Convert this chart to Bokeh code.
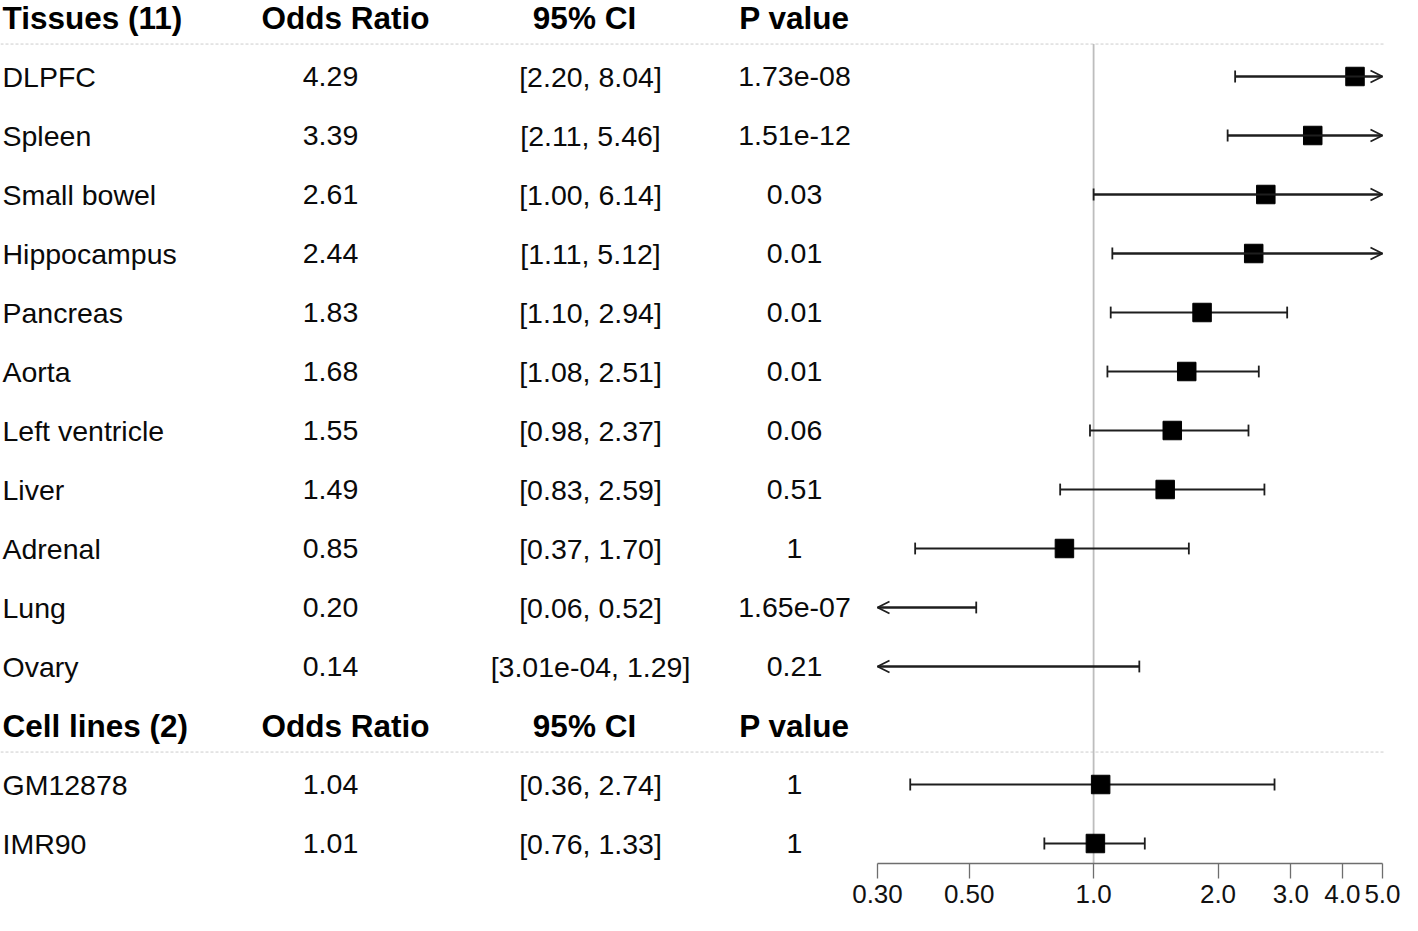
import math
from bokeh.plotting import figure
from bokeh.models import (ColumnDataSource, Range1d, LogScale, LogAxis, FixedTicker,
                          Arrow, OpenHead)
from bokeh.core.properties import value
from bokeh.embed import file_html
from bokeh.resources import INLINE

# ---------------- data ----------------
group_titles = ["Tissues (11)", "Cell lines (2)"]
column_titles = ["Odds Ratio", "95% CI", "P value"]

tissues = ["DLPFC", "Spleen", "Small bowel", "Hippocampus", "Pancreas", "Aorta",
           "Left ventricle", "Liver", "Adrenal", "Lung", "Ovary"]
tissue_or = [4.29, 3.39, 2.61, 2.44, 1.83, 1.68, 1.55, 1.49, 0.85, 0.20, 0.14]
tissue_lo = [2.20, 2.11, 1.00, 1.11, 1.10, 1.08, 0.98, 0.83, 0.37, 0.06, 3.01e-4]
tissue_hi = [8.04, 5.46, 6.14, 5.12, 2.94, 2.51, 2.37, 2.59, 1.70, 0.52, 1.29]
tissue_p = ["1.73e-08", "1.51e-12", "0.03", "0.01", "0.01", "0.01", "0.06", "0.51",
            "1", "1.65e-07", "0.21"]

cell_lines = ["GM12878", "IMR90"]
cell_or = [1.04, 1.01]
cell_lo = [0.36, 0.76]
cell_hi = [2.74, 1.33]
cell_p = ["1", "1"]

tick_values = [0.30, 0.50, 1.0, 2.0, 3.0, 4.0, 5.0]
tick_labels = ["0.30", "0.50", "1.0", "2.0", "3.0", "4.0", "5.0"]
ref_or = 1.0

# ---------------- layout ----------------
W, H = 1402, 915
BORDER_BOTTOM = 52
ROW0_PX = 17.0        # pixel of header row centre
ROW_PX = 59.0         # pixels per row
FRAME_H = H - BORDER_BOTTOM
y_top = -ROW0_PX / ROW_PX
y_bot = (FRAME_H - ROW0_PX) / ROW_PX

X_AXIS_LEFT_PX = 877   # where the lowest tick sits (px)
PX_PER_DECADE = 413.3
xmin, xmax = tick_values[0], tick_values[-1]
log_left = math.log10(xmin) - X_AXIS_LEFT_PX / PX_PER_DECADE
log_right = log_left + W / PX_PER_DECADE
SEP_END_PX = 1385

FONT = value("Liberation Sans")
TXT = "#0a0a0a"
INK = "#1e1e1e"

p = figure(width=W, height=H, output_backend="svg", toolbar_location=None,
           x_range=Range1d(0, W), y_range=Range1d(y_bot, y_top),
           x_axis_location=None, y_axis_location=None,
           min_border=0, min_border_bottom=BORDER_BOTTOM, outline_line_color=None)
p.extra_x_ranges = {"log": Range1d(10 ** log_left, 10 ** log_right)}
p.extra_x_scales = {"log": LogScale()}
p.xgrid.visible = False
p.ygrid.visible = False

# rows
names = tissues + cell_lines
ors = tissue_or + cell_or
los = tissue_lo + cell_lo
his = tissue_hi + cell_hi
pvals = tissue_p + cell_p
rows = list(range(1, 1 + len(tissues))) + \
    list(range(len(tissues) + 2, len(tissues) + 2 + len(cell_lines)))
header_rows = [0, len(tissues) + 1]


def fmt(v):
    return f"{v:.2e}" if v < 0.01 else f"{v:.2f}"


ci_txt = [f"[{fmt(l)}, {fmt(h)}]" for l, h in zip(los, his)]
or_txt = [f"{v:.2f}" for v in ors]

# separators (dashed)
sep_y = [r + 0.45 for r in header_rows]
p.segment(x0=[0] * 2, x1=[SEP_END_PX] * 2, y0=sep_y, y1=sep_y, line_color="#cccccc",
          line_width=1, line_dash="3 2")

# reference line
p.segment(x0=[ref_or], x1=[ref_or], y0=[0.45], y1=[y_bot + 1], x_range_name="log",
          line_color="#bdbdbd", line_width=1.8)

# table text
tbl = ColumnDataSource(dict(y=rows, name=names, ort=or_txt, ci=ci_txt, pv=pvals))
common = dict(source=tbl, y="y", text_baseline="middle", text_font=FONT,
              text_font_size="28.5px", text_color=TXT)
p.text(x=2, text="name", text_align="left", **common)
p.text(x=330, text="ort", text_align="center", **common)
p.text(x=590, text="ci", text_align="center", **common)
p.text(x=794, text="pv", text_align="center", **common)

hdr = ColumnDataSource(dict(y=header_rows, g=group_titles,
                            c0=[column_titles[0]] * 2, c1=[column_titles[1]] * 2,
                            c2=[column_titles[2]] * 2))
hcommon = dict(source=hdr, y="y", text_baseline="middle", text_font=FONT,
               text_font_size="31.5px", text_font_style="bold", text_color="#000000")
p.text(x=2, text="g", text_align="left", **hcommon)
p.text(x=345, text="c0", text_align="center", **hcommon)
p.text(x=584, text="c1", text_align="center", **hcommon)
p.text(x=794, text="c2", text_align="center", **hcommon)

# forest marks
lo_c = [max(l, xmin) for l in los]
hi_c = [min(h, xmax) for h in his]
ci_src = ColumnDataSource(dict(y=rows, x0=lo_c, x1=hi_c))
p.segment(x0="x0", x1="x1", y0="y", y1="y", source=ci_src, x_range_name="log",
          line_color=INK, line_width=1.8)

CAP = 0.1
cap_x = [l for l in los if l >= xmin] + [h for h in his if h <= xmax]
cap_y = [r for r, l in zip(rows, los) if l >= xmin] + \
    [r for r, h in zip(rows, his) if h <= xmax]
p.segment(x0=cap_x, x1=cap_x, y0=[c - CAP for c in cap_y], y1=[c + CAP for c in cap_y],
          x_range_name="log", line_color=INK, line_width=1.8)

pt_x = [o for o in ors if xmin <= o <= xmax]
pt_y = [r for r, o in zip(rows, ors) if xmin <= o <= xmax]
p.scatter(x=pt_x, y=pt_y, marker="square", size=18.5, fill_color="black",
          line_color="black", x_range_name="log")

right = [(r, lc) for r, lc, h in zip(rows, lo_c, his) if h > xmax]
left = [(r, hc) for r, hc, l in zip(rows, hi_c, los) if l < xmin]
arr_src = ColumnDataSource(dict(
    ys=[r for r, _ in right] + [r for r, _ in left],
    xs=[c for _, c in right] + [c for _, c in left],
    xe=[xmax] * len(right) + [xmin] * len(left)))
p.add_layout(Arrow(source=arr_src, x_start="xs", y_start="ys", x_end="xe", y_end="ys",
                   x_range_name="log", line_color=INK, line_width=1.8,
                   end=OpenHead(size=12, line_color=INK, line_width=1.8)))

# axis
ax = LogAxis(x_range_name="log", ticker=FixedTicker(ticks=tick_values, minor_ticks=[]),
             bounds=(xmin, xmax),
             major_label_overrides={v: l for v, l in zip(tick_values, tick_labels)})
ax.axis_line_color = "#6e6e6e"
ax.axis_line_width = 1.3
ax.major_tick_line_color = "#6e6e6e"
ax.major_tick_line_width = 1.3
ax.major_tick_in = 0
ax.major_tick_out = 15
ax.minor_tick_line_color = None
ax.major_label_standoff = 6
ax.major_label_text_font = "Liberation Sans"
ax.major_label_text_font_size = "26px"
ax.major_label_text_color = "#111111"
p.add_layout(ax, "below")

open("out.html", "w").write(file_html(p, INLINE))
